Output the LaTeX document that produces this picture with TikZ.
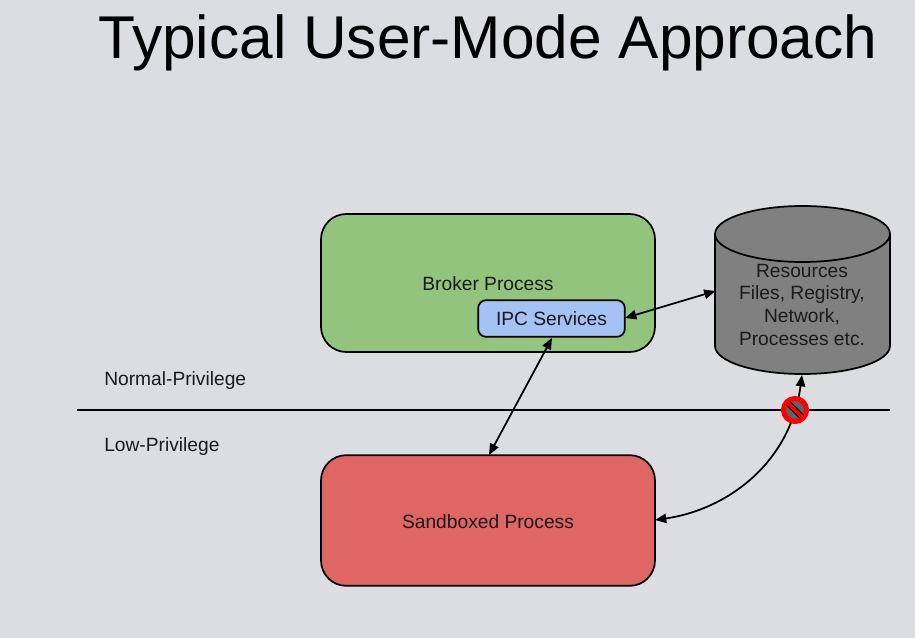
\documentclass[tikz,border=0pt]{standalone}
\usepackage{fontspec}
\setmainfont{Liberation Sans}
\usetikzlibrary{arrows.meta}
\definecolor{slidegray}{HTML}{DCDDE1}
\definecolor{brokergreen}{HTML}{93C47D}
\definecolor{sandboxred}{HTML}{E06666}
\definecolor{ipcblue}{HTML}{A4C2F4}
\definecolor{resgray}{HTML}{808080}
\definecolor{textdark}{HTML}{1A1A1A}
\tikzset{
    procbox/.style={draw=black, line width=1.3pt, rounded corners=19pt, inner sep=0pt},
    label text/.style={font=\fontsize{14.4}{17}\selectfont, text=textdark, inner sep=0pt},
    link/.style={{Triangle[length=8.5pt,width=7pt]}-{Triangle[length=8.5pt,width=7pt]}, line width=1.3pt},
}
\begin{document}
\begin{tikzpicture}[x=0.75pt,y=-0.75pt]

    \useasboundingbox[fill=slidegray] (0,0) rectangle (915,638);

    \node (title) at (488,43) [inner sep=0pt, font=\fontsize{45.3}{54}\selectfont] {Typical User-Mode Approach};

    \node (broker) at (488,283) [procbox, fill=brokergreen, minimum width=250.5pt, minimum height=103.5pt] {};
    \node (brokertext) at (488,284) [label text] {Broker Process};
    \node (ipc) at (551.5,318.5) [procbox, rounded corners=6pt, fill=ipcblue, minimum width=110pt, minimum height=27.5pt, label text] {IPC Services};
    \node (sandbox) at (488,520.5) [procbox, fill=sandboxred, minimum width=250.5pt, minimum height=98pt, label text] {};
    \node (sandboxtext) at (488,521.5) [label text] {Sandboxed Process};

    % resources drum
    \draw [line width=1.3pt, fill=resgray] (715,234) -- (715,346)
        arc [start angle=180, end angle=360, x radius=65.6pt, y radius=21pt]
        -- (890,234)
        arc [start angle=0, end angle=180, x radius=65.6pt, y radius=21pt] -- cycle;
    \draw [line width=1.3pt] (715,234) arc [start angle=180, end angle=360, x radius=65.6pt, y radius=21pt];
    \node (restext) at (802,304.5) [label text, align=center] {Resources\\Files, Registry,\\Network,\\Processes etc.};

    \node (normal) at (104,380.5) [label text, anchor=west] {Normal-Privilege};
    \node (low) at (104,446.5) [label text, anchor=west] {Low-Privilege};

    \coordinate (lineleft) at (77,410);
    \coordinate (lineright) at (890,410);
    \draw [line width=1.3pt] (lineleft) -- (lineright);

    \coordinate (ipcright) at (625,318);
    \coordinate (resleft) at (715.5,291);
    \coordinate (ipcbottom) at (552,338);
    \coordinate (sandtop) at (489,455);
    \coordinate (sandright) at (655,520);
    \coordinate (resbottom) at (802,375);

    \draw [link] (ipcright) -- (resleft);
    \draw [link] (ipcbottom) -- (sandtop);
    \draw [link] (sandright) .. controls (725,510) and (790,465) .. (resbottom);

    % no-entry sign over the line
    \coordinate (stop) at (795,410);
    \fill [slidegray!45!black] (stop) circle (11);
    \draw [red, line width=3.8pt] (stop) circle (11.5);
    \draw [black, line width=4.5pt] ([shift={(-7,-7)}]stop) -- ([shift={(7,7)}]stop);
    \draw [red, line width=2.8pt] ([shift={(-8.5,-8.5)}]stop) -- ([shift={(8.5,8.5)}]stop);

\end{tikzpicture}
\end{document}
